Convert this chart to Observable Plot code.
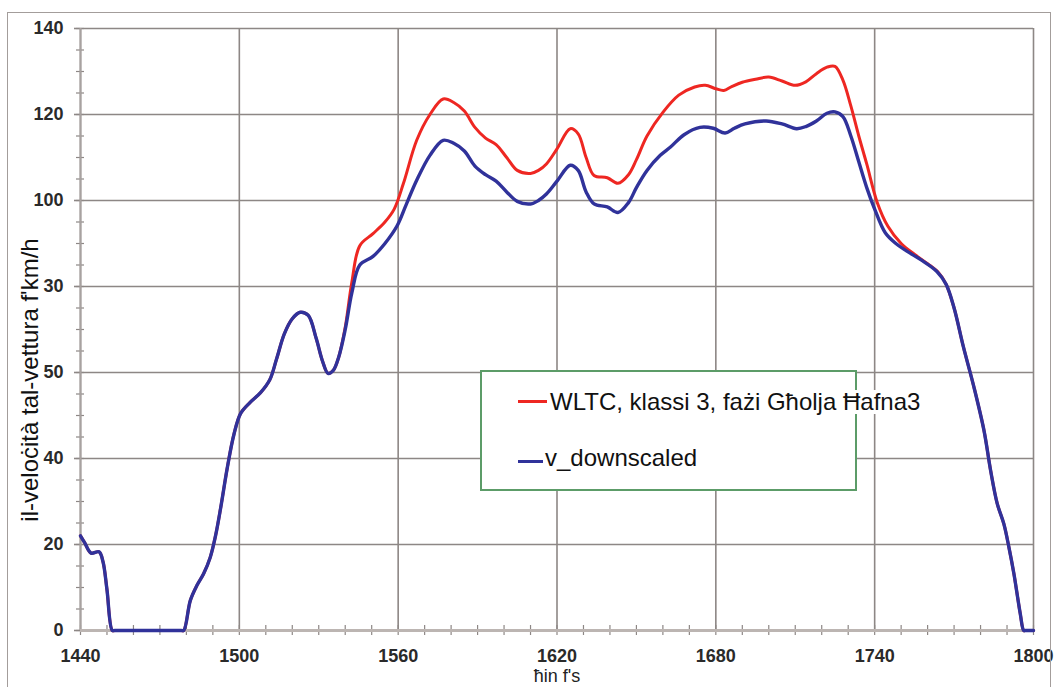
<!DOCTYPE html>
<html>
<head>
<meta charset="utf-8">
<script src="https://cdn.jsdelivr.net/npm/d3@7"></script>
<script src="https://cdn.jsdelivr.net/npm/@observablehq/plot@0.6"></script>
<style>
  body { margin: 0; background: #fff; font-family: "Liberation Sans", Arial, sans-serif; }
  #wrap { position: relative; width: 1057px; height: 687px; overflow: hidden; background: #fff; }
  #chart { position: absolute; left: 0; top: 0; }
  #frame { position: absolute; left: 7px; top: 12px; width: 1044px; height: 700px; border: 1.5px solid #a39d9b; box-sizing: border-box; pointer-events: none; }
  #ytitle { position: absolute; left: 30px; top: 380px; transform: translate(-50%, -50%) rotate(-90deg); white-space: nowrap; font-size: 24px; color: #111; line-height: 1; }
  #xtitle { position: absolute; left: 557px; top: 667px; transform: translateX(-50%); white-space: nowrap; font-size: 18px; color: #222; line-height: 1; }
  #legend { position: absolute; left: 480px; top: 370px; width: 377px; height: 121px; border: 2px solid #5c9c68; box-sizing: border-box; background: #fff; }
  .lg-sw { position: absolute; height: 3px; }
  .lg-tx { position: absolute; font-size: 24px; line-height: 1; white-space: nowrap; color: #111; background: #fff; }
</style>
</head>
<body>
<div id="wrap">
  <div id="chart"></div>
  <div id="frame"></div>
  <div id="ytitle"></div>
  <div id="xtitle"></div>
  <div id="legend"></div>
  <div id="legtext"></div>
</div>
<script>
// ---------- data ----------
const seriesNames = ["WLTC, klassi 3, fażi Għolja Ħafna3", "v_downscaled"];
const seriesColors = ["#ee2722", "#30329a"];

// shared start (both curves coincide)
const timeStart  = [1440, 1441.5, 1444, 1447, 1448.5, 1450, 1452, 1453, 1478, 1479, 1481.5, 1484, 1486.5, 1489, 1491, 1493, 1495.5, 1498, 1500.5, 1504, 1508, 1511.5, 1514, 1517, 1520, 1523, 1526, 1529, 1531.5, 1533.5, 1535.5, 1537.5];
const speedStart = [22, 20.5, 18, 18.3, 16, 9.5, 0, 0, 0, 0, 7, 10.5, 13.2, 17, 22, 28.7, 38, 45.7, 50.5, 53, 55.3, 58.3, 63, 69, 72.5, 74, 73.3, 68, 62.5, 59.8, 60.5, 63.5];

// WLTC extra high phase (middle part)
const timeMidWltc  = [1540, 1542.5, 1545.5, 1550.5, 1555, 1558.5, 1562, 1567, 1572, 1577, 1581, 1585, 1589, 1593, 1597, 1601, 1605, 1610, 1613, 1616, 1620, 1625, 1628, 1631, 1634, 1639, 1643, 1647, 1650, 1654, 1660, 1666, 1672, 1676, 1680, 1683, 1686, 1690, 1695, 1700, 1705, 1710, 1714, 1718, 1722, 1725, 1728, 1731, 1734, 1737, 1741, 1745, 1750, 1755, 1760, 1764];
const speedMidWltc = [70.5, 81, 89.5, 92.3, 95, 98, 104, 114, 120, 123.6, 122.8, 120.8, 117, 114.5, 113, 110, 107, 106.3, 107, 108.5, 112, 116.7, 115.5, 110, 105.8, 105.3, 104, 106, 109.5, 115, 120.5, 124.5, 126.4, 126.8, 126, 125.6, 126.5, 127.5, 128.2, 128.7, 127.8, 126.8, 127.6, 129.5, 131, 131.2, 128, 122, 115, 108.5, 99.5, 94, 90, 87.5, 85.3, 83.3];

// downscaled (middle part)
const timeMidDown  = [1540, 1542.5, 1545.5, 1550.5, 1555, 1559.5, 1563, 1567, 1572, 1577, 1581, 1585, 1589, 1593, 1597, 1601, 1605, 1610, 1613, 1616, 1620, 1625, 1628, 1631, 1634, 1639, 1643, 1647, 1650, 1654, 1659, 1663, 1668, 1674, 1679, 1683.5, 1687, 1691, 1699, 1705, 1710.5, 1714, 1718, 1722, 1725, 1728, 1731, 1734, 1737, 1740, 1744, 1748, 1752, 1758, 1763.5];
const speedMidDown = [70, 78.5, 85, 87, 90, 94, 99, 104.7, 110.5, 114, 113.3, 111.5, 108, 106, 104.5, 102, 99.8, 99.2, 100, 101.5, 104.5, 108.2, 107, 102, 99.2, 98.5, 97.2, 99.5, 103, 107, 110.5, 112.5, 115.3, 117, 116.8, 115.7, 116.8, 117.8, 118.5, 117.8, 116.7, 117.2, 118.5, 120.3, 120.6, 119.5, 115, 109, 103, 98, 92.5, 90, 88.3, 86, 83.5];

// shared end
const timeEnd  = [1767, 1770, 1773.5, 1777.5, 1781.3, 1783.8, 1786.3, 1788.8, 1790.7, 1792.6, 1795, 1796.3, 1797, 1800];
const speedEnd = [80.5, 75, 66, 56.6, 46.5, 37.2, 29.5, 24.8, 19.4, 13.2, 3.9, 0, 0, 0];

// ticks
const xMajorTicks = [1440, 1500, 1560, 1620, 1680, 1740, 1800];
const yMajorTicks = [0, 20, 40, 60, 80, 100, 120, 140];
const yTickLabels = ["0", "20", "40", "50", "30", "100", "120", "140"];

const xTitle = "ħin f's";
const yTitle = "il-veloċità tal-vettura f'km/h";

// ---------- build tables ----------
function build(name, ts, vs) {
  return ts.map((t, i) => ({series: name, t, v: vs[i]}));
}
const wltc = [
  ...build(seriesNames[0], timeStart, speedStart),
  ...build(seriesNames[0], timeMidWltc, speedMidWltc),
  ...build(seriesNames[0], timeEnd, speedEnd)
];
const down = [
  ...build(seriesNames[1], timeStart, speedStart),
  ...build(seriesNames[1], timeMidDown, speedMidDown),
  ...build(seriesNames[1], timeEnd, speedEnd)
];

const xMinorTicks = d3.range(1440, 1801, 10);
const yMinorTicks = d3.range(0, 141, 5);
const GRID = "#8d8785";
const AXIS = "#bcb5b2";
const labelMap = new Map(yMajorTicks.map((t, i) => [t, yTickLabels[i]]));

const plot = Plot.plot({
  width: 1057,
  height: 687,
  marginLeft: 80,
  marginRight: 24,
  marginTop: 28,
  marginBottom: 57,
  style: {background: "transparent", fontFamily: "'Liberation Sans', Arial, sans-serif", overflow: "visible"},
  x: {domain: [1440, 1800], label: null},
  y: {domain: [0, 140], label: null},
  marks: [
    Plot.gridX(xMajorTicks, {stroke: GRID, strokeOpacity: 1, strokeWidth: 1.6}),
    Plot.gridY(yMajorTicks, {stroke: GRID, strokeOpacity: 1, strokeWidth: 1.6}),
    // minor ticks
    Plot.axisX({ticks: xMinorTicks, tickSize: 10, dy: -5, text: null, label: null, stroke: GRID, strokeWidth: 1.2}),
    Plot.axisY({ticks: yMinorTicks, tickSize: 8, dx: 4, text: null, label: null, stroke: GRID, strokeWidth: 1.2}),
    Plot.axisY({ticks: yMajorTicks, tickSize: 6, text: null, label: null, stroke: GRID, strokeWidth: 1.6}),
    // labels
    Plot.axisX({ticks: xMajorTicks, tickSize: 0, tickPadding: 19, tickFormat: d => String(d), label: null,
      fontSize: 18, fontWeight: "bold", fill: "#2a2a2a"}),
    Plot.axisY({ticks: yMajorTicks, tickSize: 0, tickPadding: 17, tickFormat: d => labelMap.get(d), label: null,
      fontSize: 18, fontWeight: "bold", fill: "#2a2a2a"}),
    // axis lines
    Plot.ruleX([1440], {stroke: "#a8a2a0", strokeWidth: 2}),
    Plot.ruleY([0], {stroke: AXIS, strokeWidth: 3}),
    // series
    Plot.line(wltc, {x: "t", y: "v", stroke: seriesColors[0], strokeWidth: 3, curve: "catmull-rom"}),
    Plot.line(down, {x: "t", y: "v", stroke: seriesColors[1], strokeWidth: 3.4, curve: "catmull-rom"})
  ]
});
document.getElementById("chart").appendChild(plot);

document.getElementById("ytitle").textContent = yTitle;
document.getElementById("xtitle").textContent = xTitle;

// legend
const legend = document.getElementById("legtext");
const legendRows = [
  {sw: {left: 518, top: 399.5, width: 29}, tx: {left: 550, top: 390}},
  {sw: {left: 518, top: 460, width: 25}, tx: {left: 545, top: 446}}
];
seriesNames.forEach((name, i) => {
  const r = legendRows[i];
  const sw = document.createElement("div");
  sw.className = "lg-sw";
  Object.assign(sw.style, {left: r.sw.left + "px", top: r.sw.top + "px", width: r.sw.width + "px", background: seriesColors[i]});
  const tx = document.createElement("div");
  tx.className = "lg-tx";
  Object.assign(tx.style, {left: r.tx.left + "px", top: r.tx.top + "px"});
  tx.textContent = name;
  legend.appendChild(sw);
  legend.appendChild(tx);
});
</script>
</body>
</html>
